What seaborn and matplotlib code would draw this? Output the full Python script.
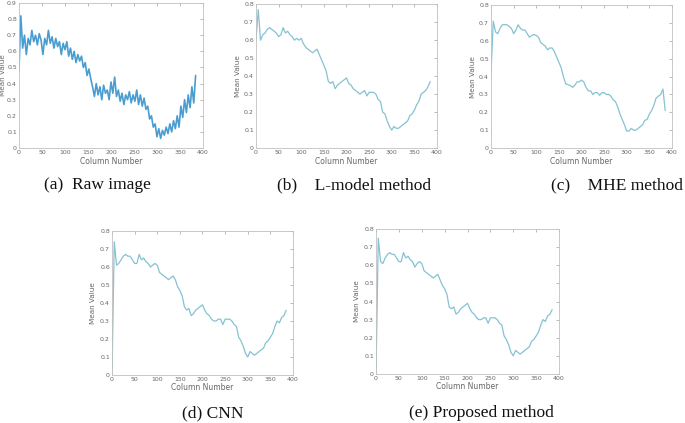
import matplotlib
matplotlib.use("Agg")
import matplotlib.pyplot as plt
import numpy as np
import pandas as pd
import seaborn as sns
from matplotlib.ticker import FuncFormatter

sns.set_style("white")

# column positions (every 4 columns for the raw profile, every 5 for the rest)
raw_cols = list(range(0, 388, 4))
cols = list(range(0, 390, 5))

raw_vals = [0.48, 0.82, 0.62, 0.70, 0.58, 0.68, 0.64, 0.73, 0.66, 0.70,
            0.64, 0.71, 0.67, 0.58, 0.68, 0.64, 0.73, 0.65, 0.69, 0.62,
            0.68, 0.63, 0.66, 0.58, 0.65, 0.61, 0.66, 0.57, 0.62, 0.55,
            0.60, 0.53, 0.58, 0.54, 0.57, 0.50, 0.53, 0.45, 0.49, 0.43,
            0.38, 0.32, 0.40, 0.33, 0.38, 0.30, 0.39, 0.34, 0.36, 0.30,
            0.41, 0.34, 0.44, 0.32, 0.36, 0.29, 0.34, 0.27, 0.33, 0.30,
            0.35, 0.28, 0.33, 0.29, 0.36, 0.27, 0.33, 0.26, 0.31, 0.24,
            0.26, 0.18, 0.20, 0.13, 0.15, 0.07, 0.12, 0.06, 0.11, 0.08,
            0.13, 0.09, 0.15, 0.10, 0.17, 0.12, 0.20, 0.13, 0.26, 0.19,
            0.30, 0.22, 0.33, 0.25, 0.38, 0.28, 0.45]

lmodel_vals = [0.60, 0.77, 0.60, 0.63, 0.64, 0.66, 0.67, 0.66, 0.65, 0.64,
               0.62, 0.63, 0.67, 0.64, 0.65, 0.63, 0.62, 0.60, 0.61, 0.60,
               0.61, 0.58, 0.56, 0.55, 0.54, 0.53, 0.54, 0.55, 0.52, 0.49,
               0.46, 0.43, 0.37, 0.36, 0.37, 0.33, 0.35, 0.36, 0.37, 0.38,
               0.39, 0.36, 0.35, 0.33, 0.32, 0.31, 0.30, 0.31, 0.32, 0.29,
               0.31, 0.31, 0.31, 0.30, 0.27, 0.26, 0.20, 0.19, 0.15, 0.12,
               0.10, 0.12, 0.11, 0.11, 0.12, 0.13, 0.14, 0.15, 0.18, 0.19,
               0.21, 0.24, 0.26, 0.30, 0.31, 0.32, 0.34, 0.37]

mhe_vals = [0.42, 0.71, 0.65, 0.64, 0.67, 0.69, 0.69, 0.69, 0.68, 0.67,
            0.64, 0.66, 0.69, 0.67, 0.66, 0.66, 0.64, 0.62, 0.63, 0.635,
            0.63, 0.62, 0.59, 0.58, 0.57, 0.55, 0.56, 0.56, 0.54, 0.51,
            0.48, 0.45, 0.40, 0.36, 0.355, 0.35, 0.34, 0.35, 0.37, 0.37,
            0.38, 0.37, 0.34, 0.32, 0.32, 0.30, 0.31, 0.31, 0.295, 0.31,
            0.31, 0.30, 0.30, 0.29, 0.27, 0.26, 0.23, 0.19, 0.16, 0.13,
            0.095, 0.095, 0.11, 0.10, 0.10, 0.11, 0.12, 0.13, 0.155, 0.16,
            0.19, 0.21, 0.24, 0.28, 0.29, 0.30, 0.33, 0.21]

cnn_vals = [0.00, 0.74, 0.61, 0.62, 0.64, 0.66, 0.67, 0.66, 0.66, 0.64,
            0.62, 0.62, 0.67, 0.64, 0.65, 0.63, 0.62, 0.60, 0.61, 0.62,
            0.61, 0.57, 0.56, 0.55, 0.54, 0.53, 0.54, 0.55, 0.53, 0.49,
            0.47, 0.44, 0.38, 0.36, 0.37, 0.33, 0.34, 0.36, 0.37, 0.38,
            0.39, 0.36, 0.34, 0.33, 0.31, 0.30, 0.30, 0.31, 0.31, 0.28,
            0.31, 0.31, 0.31, 0.30, 0.28, 0.27, 0.21, 0.19, 0.16, 0.12,
            0.10, 0.13, 0.12, 0.11, 0.12, 0.13, 0.14, 0.15, 0.18, 0.19,
            0.21, 0.23, 0.27, 0.30, 0.29, 0.32, 0.33, 0.36]

proposed_vals = [0.00, 0.75, 0.62, 0.61, 0.64, 0.66, 0.67, 0.66, 0.66, 0.64,
                 0.62, 0.62, 0.67, 0.64, 0.65, 0.63, 0.62, 0.59, 0.61, 0.62,
                 0.61, 0.57, 0.56, 0.55, 0.54, 0.53, 0.54, 0.55, 0.52, 0.49,
                 0.47, 0.44, 0.37, 0.36, 0.37, 0.33, 0.34, 0.36, 0.37, 0.38,
                 0.39, 0.36, 0.34, 0.33, 0.31, 0.30, 0.30, 0.31, 0.31, 0.28,
                 0.31, 0.31, 0.31, 0.30, 0.28, 0.27, 0.21, 0.19, 0.16, 0.12,
                 0.10, 0.13, 0.12, 0.11, 0.12, 0.13, 0.14, 0.15, 0.18, 0.19,
                 0.21, 0.23, 0.27, 0.30, 0.29, 0.32, 0.33, 0.355]

captions = ["(a)  Raw image", "(b)    L-model method", "(c)    MHE method",
            "(d) CNN", "(e) Proposed method"]

RAW_COLOR = "#4a9dd0"
SMOOTH_COLOR = "#85c2d2"

fig = plt.figure(figsize=(6.85, 4.23), dpi=100)

panels = [
    # rect, x, y, ymax, color, lw, caption anchor (px), ha, ylabel offset
    ([0.0277, 0.650, 0.2686, 0.343], raw_cols, raw_vals, 0.9, RAW_COLOR, 1.2, (97, 185), "center", -0.068),
    ([0.3737, 0.650, 0.2642, 0.340], cols, lmodel_vals, 0.8, SMOOTH_COLOR, 0.9, (354, 185), "center", -0.083),
    ([0.7168, 0.650, 0.2642, 0.338], cols, mhe_vals, 0.8, SMOOTH_COLOR, 0.9, (683, 185), "right", -0.083),
    ([0.1635, 0.1135, 0.2642, 0.3404], cols, cnn_vals, 0.8, SMOOTH_COLOR, 0.9, (213, 413), "center", -0.087),
    ([0.5489, 0.1158, 0.2672, 0.3428], cols, proposed_vals, 0.8, SMOOTH_COLOR, 0.9, (481, 413), "center", -0.087),
]

fmt = FuncFormatter(lambda v, p: f"{v:g}")

for (rect, xs, ys, ymax, color, lw, cap_pos, cap_ha, ylab_x), cap in zip(panels, captions):
    ax = fig.add_axes(rect)
    df = pd.DataFrame({"Column Number": xs, "Mean Value": ys})
    sns.lineplot(data=df, x="Column Number", y="Mean Value", ax=ax,
                 color=color, linewidth=lw)
    ax.set_xlim(0, 400)
    ax.set_ylim(0, ymax)
    ax.set_xticks(np.arange(0, 401, 50))
    ax.set_yticks(np.arange(0, ymax + 0.001, 0.1))
    ax.xaxis.set_major_formatter(fmt)
    ax.yaxis.set_major_formatter(fmt)
    ax.tick_params(direction="in", top=True, right=True, length=2, width=0.4,
                   labelsize=4.5, colors="#888888", labelcolor="#666666", pad=1.5)
    ax.set_xlabel("Column Number", fontsize=5.5, color="#666666", labelpad=1)
    ax.set_ylabel("Mean Value", fontsize=5.2, color="#666666")
    ax.yaxis.set_label_coords(ylab_x, 0.5)
    for s in ax.spines.values():
        s.set_color("#c0c0c0")
        s.set_linewidth(0.6)
    fig.text(cap_pos[0] / 685, 1 - cap_pos[1] / 423, cap, ha=cap_ha, va="center",
             fontsize=12.5, family=["Liberation Serif", "DejaVu Serif"], color="#111111")

fig.savefig("out.png", dpi=100)
